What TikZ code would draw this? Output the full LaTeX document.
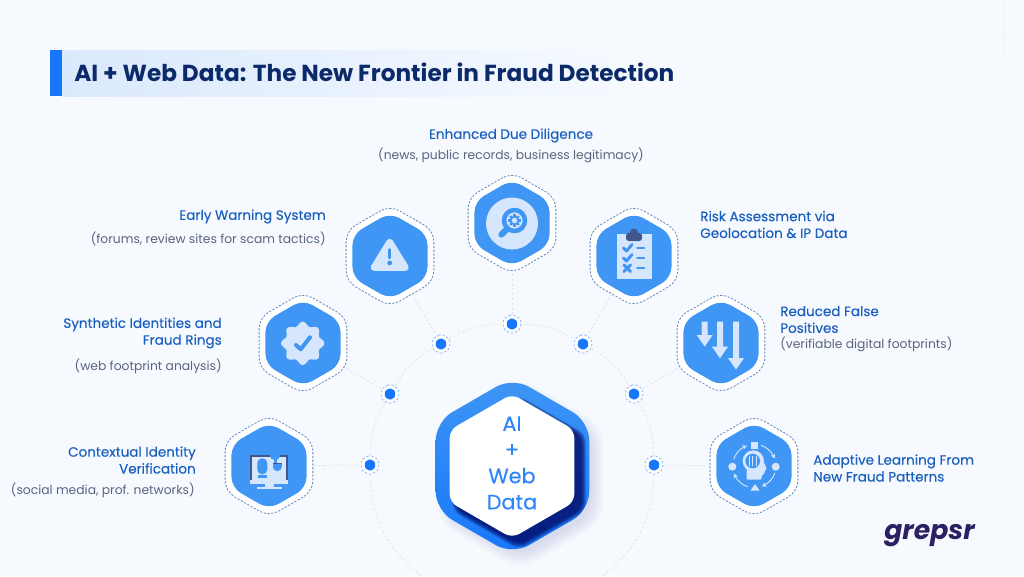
\documentclass[tikz,border=0pt]{standalone}
\usepackage{fontspec}
\setmainfont{Poppins}
\newfontfamily\medfont{Poppins}[FakeBold=0.22]
\usetikzlibrary{shapes.geometric,arrows.meta,bending}
\definecolor{pagebg}{HTML}{F6FAFF}
\definecolor{hexblue}{HTML}{3F96F5}
\definecolor{palefill}{HTML}{D6E6FC}
\definecolor{dotblue}{HTML}{1677FA}
\definecolor{dashblue}{HTML}{5C86BE}
\definecolor{spokegrey}{HTML}{DBE2EC}
\definecolor{headnavy}{HTML}{0C2A69}
\definecolor{lblblue}{HTML}{1B5FBE}
\definecolor{subgrey}{HTML}{59657F}
\definecolor{clipnavy}{HTML}{42578A}
\definecolor{logonavy}{HTML}{2B2063}
\begin{document}
\begin{tikzpicture}[x=0.75pt,y=0.75pt,yscale=-1,
  hexshape/.style={regular polygon,regular polygon sides=6,shape border rotate=30,inner sep=0pt,outer sep=0pt},
  hexdash/.style={hexshape,minimum size=76pt,rounded corners=8pt,fill=white,draw=dashblue,line width=0.6pt,dash pattern={on 1.6pt off 1.2pt}},
  hexfill/.style={hexshape,minimum size=65pt,rounded corners=8pt,fill=hexblue},
  hubdash/.style={hexshape,minimum size=15pt,rounded corners=1.5pt,fill=white,draw=dotblue!60,line width=0.5pt,dash pattern={on 1.8pt off 1.4pt}},
  hubdot/.style={hexshape,minimum size=9pt,rounded corners=1pt,fill=dotblue},
  spoke/.style={draw=spokegrey,line width=0.5pt,dash pattern={on 1.8pt off 1.8pt}},
  lblhead/.style={text=lblblue,inner sep=0pt,font=\fontsize{10.15}{12.6}\medfont\selectfont},
  lblsub/.style={text=subgrey,inner sep=0pt,font=\fontsize{9.25}{11}\selectfont},
  iconpale/.style={fill=palefill,draw=none},
  iconline/.style={draw=hexblue,line cap=round,line join=round}]
\useasboundingbox (0,0) rectangle (1024,576);
\clip (0,0) rectangle (1024,576);
\fill [pagebg] (0,0) rectangle (1024,576);
\draw [draw=black!2!pagebg,line width=0.4pt] (940,35) -- (1024,35) (1003,0) -- (1003,60);

%Shape: Title band
\fill [left color=palefill!85!pagebg,right color=pagebg] (62,50) rectangle (625,96);
\fill [dotblue] (50,50) rectangle (62,96);
% Text Node
\draw (74,72) node [anchor=west,text=headnavy,inner sep=0pt,font=\fontsize{17.4}{20}\bfseries\selectfont] (titleText) {AI + Web Data: The New Frontier in Fraud Detection};

%Shape: Small hubs
\draw (370,465) node [hubdash] (hubA) {};
\draw (390,394) node [hubdash] (hubB) {};
\draw (441,344) node [hubdash] (hubC) {};
\draw (512,324) node [hubdash] (hubD) {};
\draw (583,344) node [hubdash] (hubE) {};
\draw (634,394) node [hubdash] (hubF) {};
\draw (654,465) node [hubdash] (hubG) {};
\coordinate (arcEndL) at (422,576);
\coordinate (arcEndR) at (602,576);

%Shape: Icon hexagons
\draw (269,466) node [hexdash] (ringContext) {};
\draw (303,343) node [hexdash] (ringSynth) {};
\draw (390,256) node [hexdash] (ringWarn) {};
\draw (512,223) node [hexdash] (ringDue) {};
\draw (634,256) node [hexdash] (ringRisk) {};
\draw (721,343) node [hexdash] (ringFalse) {};
\draw (754,466) node [hexdash] (ringLearn) {};
\draw (269,466) node [hexfill] (hexContext) {};
\draw (303,343) node [hexfill] (hexSynth) {};
\draw (390,256) node [hexfill] (hexWarn) {};
\draw (512,223) node [hexfill] (hexDue) {};
\draw (634,256) node [hexfill] (hexRisk) {};
\draw (721,343) node [hexfill] (hexFalse) {};
\draw (754,466) node [hexfill] (hexLearn) {};

%Straight Lines
\draw [spoke] (ringContext) -- (hubA);
\draw [spoke] (ringSynth) -- (hubB);
\draw [spoke] (ringWarn) -- (hubC);
\draw [spoke] (ringDue) -- (hubD);
\draw [spoke] (ringRisk) -- (hubE);
\draw [spoke] (ringFalse) -- (hubF);
\draw [spoke] (ringLearn) -- (hubG);
%Curve Lines
\draw [spoke] (hubA) to [bend right=15] (hubB);
\draw [spoke] (hubB) to [bend right=15] (hubC);
\draw [spoke] (hubC) to [bend right=15] (hubD);
\draw [spoke] (hubD) to [bend right=15] (hubE);
\draw [spoke] (hubE) to [bend right=15] (hubF);
\draw [spoke] (hubF) to [bend right=15] (hubG);
\draw [spoke] (hubG) to [bend right=25] (arcEndR);
\draw [spoke] (hubA) to [bend left=25] (arcEndL);

%Shape: Hub centres
\foreach \nm/\px/\py in {A/370/465,B/390/394,C/441/344,D/512/324,E/583/344,F/634/394,G/654/465}
  \draw (\px,\py) node [hubdot] (dot\nm) {};

%Shape: Centre hexagon soft shadow
\foreach \s in {20,16,12,8,4,0}
  \draw (520,474) node [hexshape,minimum size=125pt+\s pt,rounded corners=14pt,fill=blue!45!black,fill opacity=0.018] (softShadow\s) {};
%Shape: Centre hexagon
\draw (512.5,466) node [hexshape,minimum size=133pt,rounded corners=14pt,left color=hexblue,right color=dotblue,shading angle=0,
  path picture={
    \foreach \s in {0,1.5,3,4.5,6,7.5} {
      \node [hexshape,minimum size=108pt+\s pt,rounded corners=6pt,fill=blue!35!black,fill opacity=0.2] at ([shift={(5pt,-5pt)}]path picture bounding box.center) {};
    }
  }] (coreOuter) {};
\draw (512,466) node [hexshape,minimum size=108pt,rounded corners=6pt,fill=white] (coreInner) {};
% Text Node
\draw (512,463) node [align=center,text=dotblue!90!white,inner sep=0pt,font=\fontsize{15.6}{19.6}\medfont\selectfont] (coreText) {AI\\+\\Web\\Data};

%Icon: warning
\fill [iconpale,draw=palefill,line width=5pt,line join=round] (389.7,242) -- (374,267.5) -- (405.5,267.5) -- cycle;
\draw [iconline,line width=2.2pt] (389.7,249.5) -- (389.7,258);
\fill [hexblue] (389.7,263) circle (2.4);

%Icon: magnifier
\fill [palefill] (512,223.5) circle (26);
\draw [iconline,line width=3.4pt] (514.5,220.5) circle (10.5);
\draw [iconline,line width=4.6pt] (506.5,229.5) -- (501.5,234.5);
\foreach \a in {0,45,...,315}
  \draw [iconline,line width=1.7pt,line cap=butt] (514.5,220.5) ++(\a:3.8) -- ++(\a:2.4);
\draw [iconline,line width=1.3pt] (514.5,220.5) circle (3.8);

%Icon: clipboard
\fill [palefill] (616.7,234.3) rectangle (651.7,279);
\fill [clipnavy,rounded corners=2pt] (626,233) rectangle (642,241);
\fill [clipnavy] (634,232.5) circle (4);
\foreach \yy in {248,258} {
  \draw [iconline,line width=2.2pt] (623.5,\yy) -- (626.5,\yy+3) -- (632,\yy-3.5);
  \draw [iconline,line width=2.2pt] (637.5,\yy) -- (644,\yy);
}
\draw [iconline,line width=2.2pt] (624,265) -- (630.5,271.5) (630.5,265) -- (624,271.5);
\draw [iconline,line width=2.2pt] (637.5,268) -- (644,268);

%Icon: badge
\fill [palefill] plot [domain=0:360,samples=145,smooth] ({302.7+(19.6+2*cos(8*\x))*cos(\x)},{343.3+(19.6+2*cos(8*\x))*sin(\x)}) -- cycle;
\draw [iconline,line width=3pt] (296,345) -- (300.7,349.3) -- (310,337.3);

%Icon: monitor
\fill [clipnavy] (250,455) rectangle (288.3,480);
\fill [palefill] (252,457) rectangle (286.3,479.5);
\fill [palefill] (250,479.5) rectangle (288.3,483.7);
\fill [palefill] (265,483.7) rectangle (273.5,487.5);
\fill [palefill] (257,487) rectangle (281.7,488.6);
\fill [hexblue,rounded corners=3.5pt] (257.3,458.3) rectangle (267.3,474.3);
\fill [hexblue] (257.5,475.2) rectangle (266.8,477.5);
\fill [hexblue,rounded corners=3pt] (273,464) rectangle (281.7,471);
\fill [hexblue] (273,464) rectangle (281.7,467);
\fill [clipnavy] (273,463) rectangle (281.7,464.3);
\fill [hexblue] (275,455) circle (5.2);
\fill [hexblue] (274,459) rectangle (276.5,463);

%Icon: arrows
\foreach \ax/\ay/\ab in {704.7/321.7/335,720/321.7/346.7,736/321.7/358}
  \fill [palefill] (\ax-3,\ay) -- (\ax+3,\ay) -- (\ax+3,\ab) -- (\ax+8,\ab) -- (\ax,\ab+11.5) -- (\ax-8,\ab) -- (\ax-3,\ab) -- cycle;

%Icon: learning head
\foreach \a in {-72,18,108,198}
  \draw [draw=palefill,line width=0.7pt,-{Stealth[length=3.5pt,width=3.5pt]}] (754.3,466) ++(\a:21.7) arc [start angle=\a,end angle=\a+52,radius=21.7];
\fill [palefill] (750.8,441.5) rectangle (757.8,448.5);
\fill [palefill] (732.3,466.7) circle (4);
\fill [palefill] (775.7,466.7) circle (4);
\fill [palefill] (750.5,490.5) -- (755,484) -- (759.5,490.5) -- cycle;
\fill [palefill] (753.3,461) circle (10.7);
\fill [palefill,rounded corners=1pt] (746.5,467) -- (746.5,479.7) -- (761.5,479.7) -- (761.7,475) -- (764.5,474) -- (764.5,470.5) -- (767,469.5) -- (763.8,462) -- cycle;
\fill [hexblue] (752.7,461) circle (7.3);
\foreach \bx in {749.2,752.7,756.2}
  \draw [draw=palefill,line width=1pt,line cap=round] (\bx,456.5) -- (\bx,465.5);

% Text Node
\draw (511,135.5) node [lblhead] (lblDue) {Enhanced Due Diligence};
\draw (511,155) node [lblsub] (subDue) {(news, public records, business legitimacy)};
\draw (326,216.5) node [lblhead,anchor=east] (lblWarn) {Early Warning System};
\draw (326,239) node [lblsub,anchor=east] (subWarn) {(forums, review sites for scam tactics)};
\draw (222,333) node [lblhead,anchor=east,align=right] (lblSynth) {Synthetic Identities and\\Fraud Rings};
\draw (222,366.5) node [lblsub,anchor=east] (subSynth) {(web footprint analysis)};
\draw (196,460) node [lblhead,anchor=east,align=right] (lblContext) {Contextual Identity\\Verification};
\draw (195,490.5) node [lblsub,anchor=east] (subContext) {(social media, prof. networks)};
\draw (700,224.5) node [lblhead,anchor=west,align=left] (lblRisk) {Risk Assessment via\\Geolocation \& IP Data};
\draw (780,319.5) node [lblhead,anchor=west,align=left] (lblFalse) {Reduced False\\Positives};
\draw (780,344) node [lblsub,anchor=west] (subFalse) {(verifiable digital footprints)};
\draw (813,468) node [lblhead,anchor=west,align=left] (lblLearn) {Adaptive Learning From\\New Fraud Patterns};
\draw (929.5,536) node [text=logonavy,inner sep=0pt,font=\fontsize{20}{24}\bfseries\itshape\selectfont] (logoText) {grepsr};
\end{tikzpicture}
\end{document}
